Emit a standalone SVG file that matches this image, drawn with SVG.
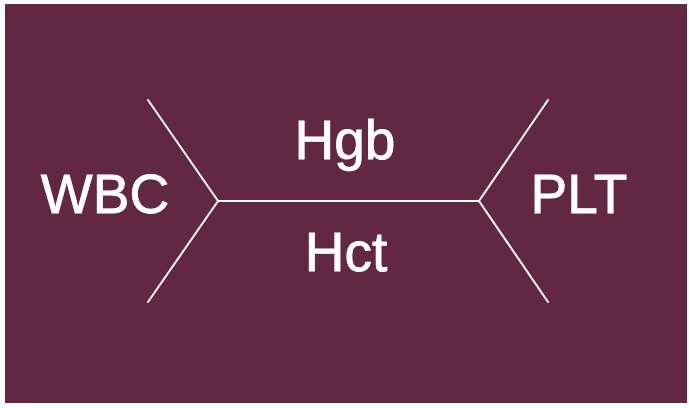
<svg xmlns="http://www.w3.org/2000/svg" width="689" height="408" viewBox="0 0 689 408">
<style>
.lbl{font-family:"Liberation Sans","Noto Sans",sans-serif;font-size:55px;fill:#ffffff;stroke:#ffffff;stroke-width:0.8;text-anchor:middle}
.ln{stroke:#ffffff;stroke-width:2;fill:none;stroke-linecap:round;stroke-linejoin:miter}
</style>
<rect x="0" y="0" width="689" height="408" fill="#ffffff"/>
<rect x="5" y="4" width="682" height="399" fill="#622741"/>
<g id="connectors">
<polyline class="ln" points="148,100 218,201 148,302"/>
<line class="ln" x1="218" y1="201" x2="479" y2="201"/>
<polyline class="ln" points="548,100 479,201 548,302"/>
</g>
<g id="wbc"><text class="lbl" x="105" y="213">WBC</text></g>
<g id="hgb"><text class="lbl" x="345" y="159">Hgb</text></g>
<g id="hct"><text class="lbl" x="346" y="271">Hct</text></g>
<g id="plt"><text class="lbl" x="579" y="213">PLT</text></g>
</svg>
